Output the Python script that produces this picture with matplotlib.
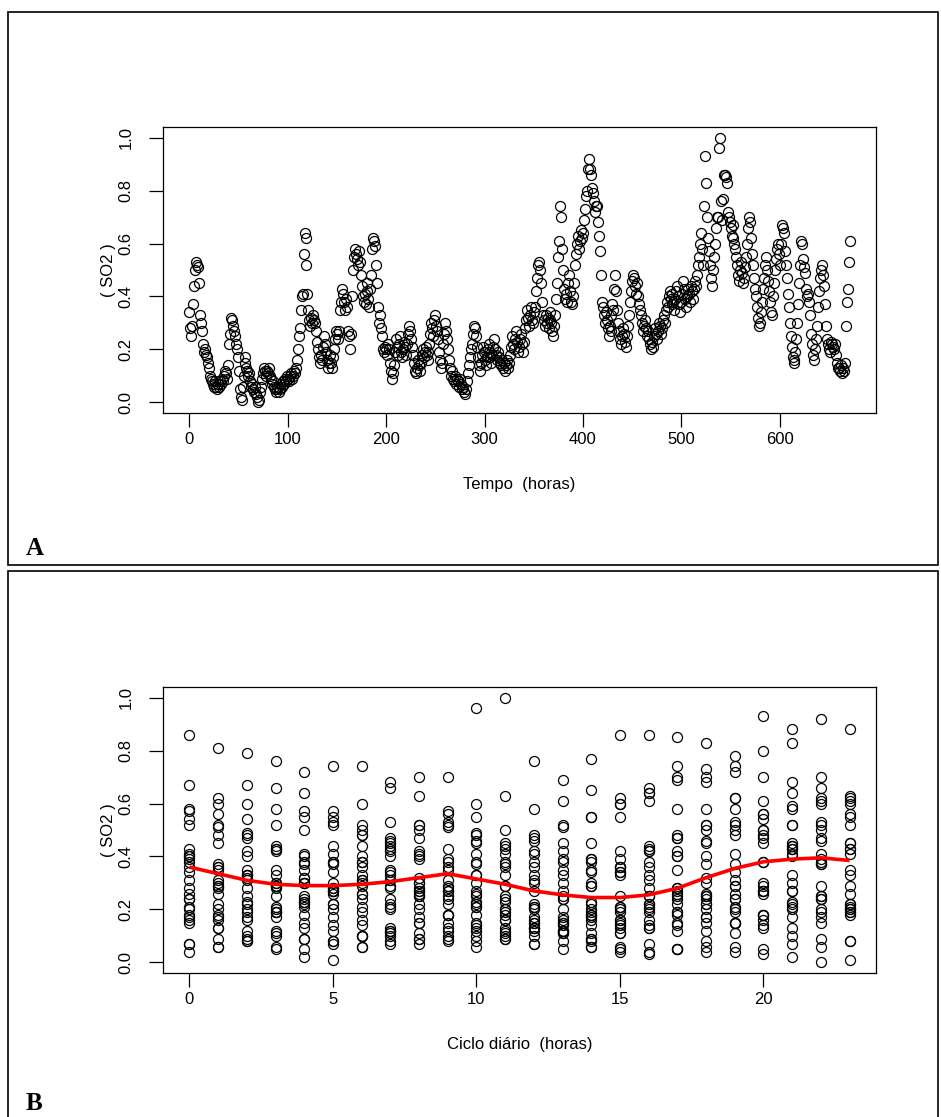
import numpy as np
import matplotlib
matplotlib.use("Agg")
import matplotlib.pyplot as plt
from matplotlib.patches import Rectangle

plt.rcParams["font.family"] = ["Liberation Sans", "DejaVu Sans"]

# SO2 normalizado, uma leitura por hora (4 semanas = 672 horas)
semana1 = [
    0.34, 0.28, 0.25, 0.29, 0.37, 0.44, 0.50, 0.53, 0.52, 0.51, 0.45, 0.33, 0.30, 0.27, 0.22, 0.19, 0.20, 0.18, 0.17, 0.15, 0.13, 0.10, 0.09, 0.08,
    0.07, 0.06, 0.08, 0.06, 0.05, 0.07, 0.06, 0.08, 0.07, 0.09, 0.08, 0.10, 0.12, 0.11, 0.09, 0.14, 0.22, 0.26, 0.32, 0.31, 0.29, 0.27, 0.25, 0.22,
    0.20, 0.17, 0.12, 0.05, 0.02, 0.01, 0.06, 0.10, 0.17, 0.15, 0.13, 0.12, 0.10, 0.11, 0.08, 0.06, 0.07, 0.05, 0.04, 0.06, 0.03, 0.02, 0.00, 0.01,
    0.04, 0.06, 0.09, 0.11, 0.13, 0.12, 0.10, 0.12, 0.11, 0.13, 0.10, 0.09, 0.07, 0.08, 0.06, 0.05, 0.04, 0.05, 0.06, 0.04, 0.05, 0.07, 0.06, 0.08,
    0.07, 0.09, 0.08, 0.10, 0.09, 0.08, 0.10, 0.11, 0.09, 0.10, 0.12, 0.11, 0.13, 0.16, 0.20, 0.25, 0.28, 0.35, 0.40, 0.41, 0.56, 0.64, 0.62, 0.52,
    0.41, 0.35, 0.31, 0.29, 0.32, 0.30, 0.33, 0.31, 0.30, 0.27, 0.23, 0.20, 0.17, 0.15, 0.18, 0.16, 0.21, 0.25, 0.22, 0.19, 0.16, 0.13, 0.15, 0.18,
    0.15, 0.13, 0.17, 0.20, 0.24, 0.27, 0.26, 0.24, 0.27, 0.35, 0.38, 0.43, 0.41, 0.38, 0.35, 0.39, 0.36, 0.27, 0.25, 0.20, 0.26, 0.40, 0.50, 0.55,
]
semana2 = [
    0.58, 0.56, 0.54, 0.52, 0.57, 0.53, 0.48, 0.44, 0.40, 0.38, 0.41, 0.37, 0.42, 0.45, 0.39, 0.36, 0.43, 0.48, 0.58, 0.62, 0.61, 0.59, 0.52, 0.45,
    0.36, 0.30, 0.33, 0.28, 0.25, 0.20, 0.19, 0.21, 0.20, 0.18, 0.22, 0.20, 0.15, 0.12, 0.09, 0.11, 0.14, 0.19, 0.24, 0.21, 0.18, 0.22, 0.25, 0.19,
    0.17, 0.20, 0.23, 0.21, 0.18, 0.22, 0.26, 0.29, 0.27, 0.24, 0.21, 0.18, 0.15, 0.12, 0.11, 0.13, 0.16, 0.14, 0.12, 0.15, 0.18, 0.20, 0.17, 0.19,
    0.21, 0.18, 0.16, 0.19, 0.22, 0.26, 0.30, 0.28, 0.25, 0.31, 0.33, 0.29, 0.27, 0.24, 0.19, 0.16, 0.13, 0.15, 0.22, 0.26, 0.30, 0.27, 0.24, 0.20,
    0.16, 0.13, 0.10, 0.12, 0.09, 0.08, 0.10, 0.07, 0.09, 0.08, 0.06, 0.09, 0.07, 0.05, 0.06, 0.04, 0.03, 0.05, 0.08, 0.11, 0.14, 0.17, 0.20, 0.22,
    0.26, 0.29, 0.28, 0.25, 0.21, 0.17, 0.14, 0.12, 0.15, 0.18, 0.21, 0.19, 0.16, 0.14, 0.17, 0.20, 0.22, 0.19, 0.17, 0.15, 0.18, 0.21, 0.24, 0.20,
    0.18, 0.16, 0.19, 0.17, 0.15, 0.14, 0.16, 0.13, 0.15, 0.12, 0.14, 0.16, 0.13, 0.15, 0.18, 0.21, 0.25, 0.22, 0.20, 0.24, 0.27, 0.23, 0.19, 0.21,
]
semana3 = [
    0.24, 0.26, 0.22, 0.19, 0.23, 0.28, 0.31, 0.35, 0.32, 0.29, 0.33, 0.36, 0.31, 0.30, 0.34, 0.36, 0.42, 0.47, 0.52, 0.53, 0.50, 0.45, 0.38, 0.33,
    0.31, 0.29, 0.33, 0.30, 0.32, 0.28, 0.31, 0.34, 0.30, 0.27, 0.25, 0.29, 0.33, 0.39, 0.45, 0.55, 0.61, 0.74, 0.70, 0.58, 0.50, 0.43, 0.39, 0.41,
    0.38, 0.45, 0.48, 0.42, 0.38, 0.37, 0.40, 0.45, 0.52, 0.56, 0.60, 0.63, 0.58, 0.61, 0.65, 0.62, 0.64, 0.69, 0.73, 0.78, 0.80, 0.88, 0.92, 0.88,
    0.86, 0.81, 0.79, 0.76, 0.72, 0.74, 0.74, 0.68, 0.63, 0.57, 0.48, 0.38, 0.36, 0.33, 0.30, 0.34, 0.31, 0.28, 0.25, 0.29, 0.27, 0.33, 0.37, 0.35,
    0.43, 0.48, 0.42, 0.35, 0.30, 0.27, 0.24, 0.22, 0.25, 0.28, 0.26, 0.23, 0.21, 0.25, 0.29, 0.33, 0.38, 0.42, 0.46, 0.48, 0.47, 0.44, 0.41, 0.45,
    0.40, 0.37, 0.35, 0.33, 0.30, 0.27, 0.29, 0.31, 0.28, 0.25, 0.27, 0.24, 0.22, 0.20, 0.23, 0.21, 0.25, 0.28, 0.26, 0.24, 0.27, 0.30, 0.29, 0.26,
    0.28, 0.31, 0.33, 0.30, 0.35, 0.38, 0.36, 0.40, 0.42, 0.39, 0.37, 0.41, 0.38, 0.35, 0.39, 0.42, 0.44, 0.40, 0.37, 0.34, 0.38, 0.41, 0.46, 0.43,
]
semana4 = [
    0.39, 0.36, 0.40, 0.43, 0.41, 0.38, 0.44, 0.42, 0.39, 0.43, 0.46, 0.44, 0.48, 0.52, 0.55, 0.60, 0.64, 0.58, 0.52, 0.74, 0.93, 0.83, 0.70, 0.62,
    0.57, 0.52, 0.47, 0.44, 0.50, 0.55, 0.60, 0.66, 0.70, 0.70, 0.96, 1.00, 0.76, 0.69, 0.77, 0.86, 0.86, 0.85, 0.83, 0.72, 0.70, 0.68, 0.66, 0.63,
    0.67, 0.62, 0.60, 0.58, 0.55, 0.52, 0.48, 0.46, 0.50, 0.53, 0.49, 0.45, 0.47, 0.51, 0.55, 0.60, 0.66, 0.70, 0.68, 0.62, 0.56, 0.52, 0.47, 0.43,
    0.40, 0.36, 0.32, 0.29, 0.30, 0.34, 0.38, 0.43, 0.47, 0.52, 0.55, 0.50, 0.46, 0.42, 0.38, 0.34, 0.33, 0.40, 0.45, 0.50, 0.54, 0.58, 0.60, 0.56,
    0.52, 0.60, 0.67, 0.66, 0.64, 0.57, 0.52, 0.47, 0.41, 0.36, 0.30, 0.25, 0.21, 0.17, 0.16, 0.15, 0.19, 0.24, 0.30, 0.37, 0.45, 0.52, 0.61, 0.60,
    0.54, 0.51, 0.49, 0.43, 0.40, 0.41, 0.38, 0.33, 0.26, 0.22, 0.18, 0.16, 0.20, 0.24, 0.29, 0.36, 0.42, 0.47, 0.50, 0.52, 0.48, 0.44, 0.37, 0.29,
    0.24, 0.22, 0.20, 0.19, 0.23, 0.22, 0.21, 0.20, 0.22, 0.18, 0.15, 0.13, 0.13, 0.12, 0.14, 0.11, 0.13, 0.12, 0.15, 0.29, 0.38, 0.43, 0.53, 0.61,
]

# curva suavizada do ciclo diário
horas_curva = list(range(24))
curva = [0.36, 0.335, 0.31, 0.295, 0.29, 0.29, 0.295, 0.305, 0.32, 0.335, 0.315, 0.295,
         0.27, 0.255, 0.245, 0.245, 0.255, 0.28, 0.32, 0.355, 0.38, 0.39, 0.395, 0.385]

so2 = np.array(semana1 + semana2 + semana3 + semana4)
tempo = np.arange(len(so2))
hora = tempo % 24

W, H = 941, 1117


def fx(px):
    return px / W


def fy(py):
    return 1 - py / H


fig = plt.figure(figsize=(W / 100, H / 100), dpi=100)

# molduras dos dois painéis
fig.patches.append(Rectangle((fx(8), fy(565)), fx(938) - fx(8), fy(12) - fy(565),
                             transform=fig.transFigure, fill=False, ec="black", lw=1.2))
fig.patches.append(Rectangle((fx(8), -0.01), fx(938) - fx(8), fy(571) + 0.01,
                             transform=fig.transFigure, fill=False, ec="black", lw=1.2))

yt = [0, 0.2, 0.4, 0.6, 0.8, 1.0]


def eixo(ax, xlim, xticks):
    ax.set_xlim(*xlim)
    ax.set_ylim(-0.04, 1.04)
    ax.set_xticks(xticks)
    ax.set_yticks(yt)
    ax.set_yticklabels([f"{v:.1f}" for v in yt], rotation=90, va="center")
    ax.tick_params(axis="both", length=10, width=0.9, labelsize=12, direction="out")
    ax.tick_params(axis="x", pad=4)
    ax.tick_params(axis="y", pad=11)
    for s in ax.spines.values():
        s.set_linewidth(0.9)


# painel A: série temporal
axA = fig.add_axes([fx(163), fy(413), fx(876) - fx(163), fy(127) - fy(413)])
axA.plot(tempo, so2, "o", ms=7.2, mfc="none", mec="black", mew=0.9, ls="none")
span = tempo.max() - tempo.min()
eixo(axA, (tempo.min() - 0.04 * span, tempo.max() + 0.04 * span), range(0, 601, 100))

# painel B: ciclo diário
axB = fig.add_axes([fx(163), fy(973), fx(876) - fx(163), fy(687) - fy(973)])
axB.plot(hora, so2, "o", ms=7.2, mfc="none", mec="black", mew=0.9, ls="none")
axB.plot(horas_curva, curva, color="red", lw=2.6, solid_capstyle="butt")
eixo(axB, (-0.04 * 23, 23 * 1.04), [0, 5, 10, 15, 20])

# rótulos dos eixos
fig.text(fx(108), fy(270), "( SO2 )", rotation=90, ha="center", va="center", fontsize=12)
fig.text(fx(519.5), fy(485), "Tempo  (horas)", ha="center", va="center", fontsize=12)
fig.text(fx(108), fy(830), "( SO2 )", rotation=90, ha="center", va="center", fontsize=12)
fig.text(fx(519.5), fy(1045), "Ciclo diário  (horas)", ha="center", va="center", fontsize=12)

# letras dos painéis
fig.text(fx(26), fy(555), "A", family="Liberation Serif", weight="bold", fontsize=18,
         ha="left", va="baseline")
fig.text(fx(26), fy(1110), "B", family="Liberation Serif", weight="bold", fontsize=18,
         ha="left", va="baseline")

fig.savefig("out.png", dpi=100)
